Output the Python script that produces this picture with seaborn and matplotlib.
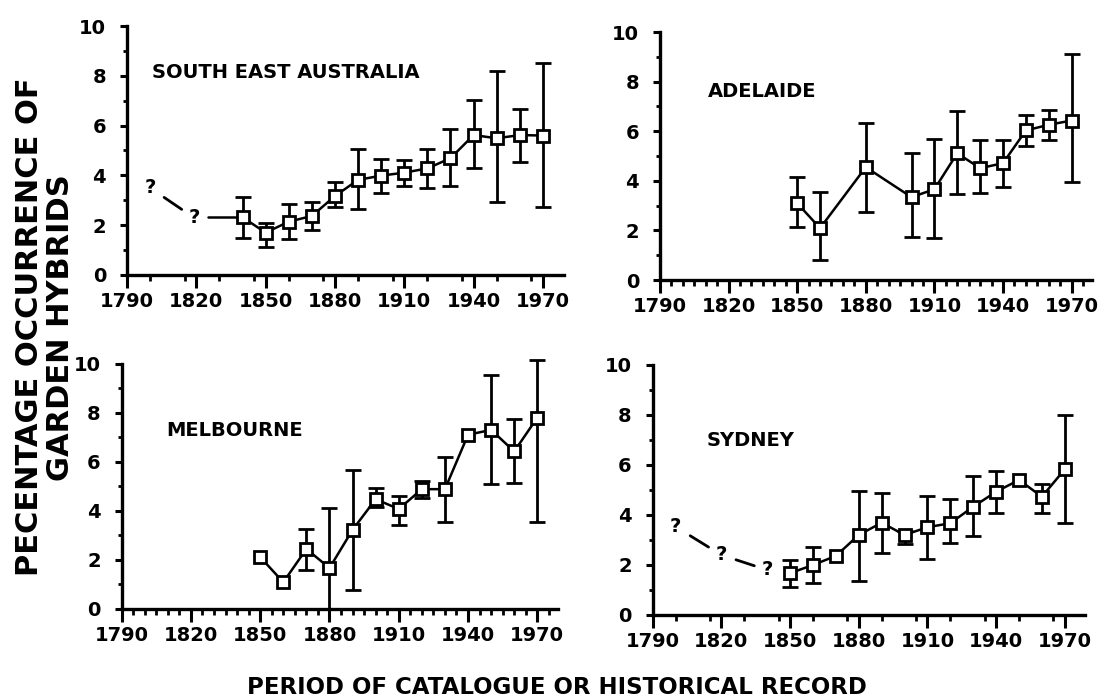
import numpy as np
import pandas as pd
import matplotlib
matplotlib.use("Agg")
import matplotlib.pyplot as plt
from matplotlib.ticker import MultipleLocator
import seaborn as sns

# data (value, lower and upper end of the error bar)
se_years = [1840, 1850, 1860, 1870, 1880, 1890, 1900, 1910, 1920, 1930, 1940, 1950, 1960, 1970]
se_val = [2.32, 1.70, 2.14, 2.37, 3.17, 3.82, 3.99, 4.11, 4.28, 4.69, 5.62, 5.49, 5.62, 5.60]
se_lo = [1.47, 1.14, 1.43, 1.81, 2.74, 2.64, 3.31, 3.59, 3.48, 3.59, 4.28, 2.95, 4.55, 2.74]
se_hi = [3.15, 2.10, 2.84, 2.95, 3.73, 5.06, 4.65, 4.62, 5.05, 5.86, 7.03, 8.21, 6.67, 8.53]
se_guess_years = [1800, 1819]
se_guess_vals = [3.5, 2.3]
se_lead_in = 1825

ad_years = [1850, 1860, 1880, 1900, 1910, 1920, 1930, 1940, 1950, 1960, 1970]
ad_val = [3.10, 2.09, 4.55, 3.34, 3.66, 5.11, 4.51, 4.71, 6.03, 6.26, 6.43]
ad_lo = [2.15, 0.81, 2.76, 1.72, 1.68, 3.47, 3.50, 3.77, 5.41, 5.65, 3.97]
ad_hi = [4.17, 3.53, 6.33, 5.11, 5.68, 6.80, 5.65, 5.65, 6.66, 6.86, 9.12]

me_years = [1850, 1860, 1870, 1880, 1890, 1900, 1910, 1920, 1930, 1940, 1950, 1960, 1970]
me_val = [2.12, 1.09, 2.45, 1.67, 3.23, 4.48, 4.08, 4.89, 4.89, 7.11, 7.31, 6.43, 7.81]
me_lo = [np.nan, np.nan, 1.60, 0.0, 0.76, 4.18, 3.44, 4.52, 3.53, np.nan, 5.11, 5.16, 3.57]
me_hi = [np.nan, np.nan, 3.26, 4.12, 5.68, 4.93, 4.62, 5.24, 6.20, np.nan, 9.55, 7.74, 10.16]

sy_years = [1850, 1860, 1870, 1880, 1890, 1900, 1910, 1920, 1930, 1940, 1950, 1960, 1970]
sy_val = [1.67, 2.00, 2.36, 3.20, 3.69, 3.20, 3.51, 3.67, 4.33, 4.93, 5.40, 4.73, 5.83]
sy_lo = [1.13, 1.29, np.nan, 1.37, 2.47, 2.84, 2.23, 2.87, 3.16, 4.09, np.nan, 4.09, 3.69]
sy_hi = [2.20, 2.73, np.nan, 4.97, 4.87, 3.37, 4.77, 4.64, 5.56, 5.77, np.nan, 5.24, 8.00]
sy_guess_years = [1800, 1820, 1840]
sy_guess_vals = [3.53, 2.4, 1.8]

year_ticks = [1790, 1820, 1850, 1880, 1910, 1940, 1970]

sns.set_theme(style="ticks")
plt.rcParams['font.family'] = ['DejaVu Sans']
plt.rcParams['font.weight'] = 'bold'
plt.rcParams['text.color'] = 'black'
plt.rcParams['xtick.color'] = 'black'
plt.rcParams['ytick.color'] = 'black'
plt.rcParams['axes.labelcolor'] = 'black'

fig = plt.figure(figsize=(11.06, 6.99), dpi=100)


def draw_panel(rect, name, name_xy, years, val, lo, hi, minor_step, guess=None, lead_in=None):
    ax = fig.add_axes(rect)
    df = pd.DataFrame({'year': years, 'val': val, 'lo': lo, 'hi': hi})

    # error bars only where the original shows one
    eb = df.dropna()
    ax.errorbar(eb['year'], eb['val'], yerr=[eb['val'] - eb['lo'], eb['hi'] - eb['val']],
                fmt='none', ecolor='black', elinewidth=2.0, capsize=6, capthick=2.0,
                zorder=2, clip_on=False)

    sns.lineplot(data=df, x='year', y='val', ax=ax, color='black', lw=1.8,
                 marker='s', markersize=8, markerfacecolor='white',
                 markeredgecolor='black', markeredgewidth=2.0, zorder=3, clip_on=False)

    # speculative early trend drawn as "?" marks with dashes in between
    if guess is not None:
        gx, gy = guess
        for x, y in zip(gx, gy):
            ax.text(x, y, '?', ha='center', va='center', fontsize=14, fontweight='bold')
        for i in range(len(gx) - 1):
            x0, x1 = gx[i], gx[i + 1]
            y0, y1 = gy[i], gy[i + 1]
            ax.plot([x0 + 0.32 * (x1 - x0), x0 + 0.72 * (x1 - x0)],
                    [y0 + 0.32 * (y1 - y0), y0 + 0.72 * (y1 - y0)],
                    color='black', lw=2.0)
    if lead_in is not None:
        ax.plot([lead_in, years[0]], [val[0], val[0]], color='black', lw=1.8)

    ax.text(name_xy[0], name_xy[1], name, ha='left', va='center',
            fontsize=14, fontweight='bold')

    ax.set_xlim(1790, 1979)
    ax.set_ylim(0, 10)
    ax.set_xticks(year_ticks)
    ax.xaxis.set_minor_locator(MultipleLocator(minor_step))
    ax.set_yticks([0, 2, 4, 6, 8, 10])
    ax.yaxis.set_minor_locator(MultipleLocator(1))
    ax.set_xlabel('')
    ax.set_ylabel('')
    ax.tick_params(axis='x', which='major', direction='out', length=9, width=2.2,
                   labelsize=14, pad=3)
    ax.tick_params(axis='x', which='minor', direction='out', length=4, width=2.0)
    ax.tick_params(axis='y', which='major', direction='out', length=5, width=2.2,
                   labelsize=14, pad=10)
    ax.tick_params(axis='y', which='minor', direction='out', length=3, width=2.0)
    for lab in ax.get_xticklabels() + ax.get_yticklabels():
        lab.set_fontweight('bold')
    sns.despine(ax=ax)
    for side in ['left', 'bottom']:
        ax.spines[side].set_linewidth(2.4)
        ax.spines[side].set_color('black')
    ax.set_facecolor('white')
    return ax


draw_panel([0.1148, 0.6066, 0.3949, 0.3562], 'SOUTH EAST AUSTRALIA', (1801, 8.15),
           se_years, se_val, se_lo, se_hi, 15,
           guess=(se_guess_years, se_guess_vals), lead_in=se_lead_in)
draw_panel([0.5967, 0.5994, 0.3908, 0.3548], 'ADELAIDE', (1811, 7.6),
           ad_years, ad_val, ad_lo, ad_hi, 5)
draw_panel([0.1100, 0.1288, 0.3946, 0.3505], 'MELBOURNE', (1809.5, 7.3),
           me_years, me_val, me_lo, me_hi, 5)
draw_panel([0.5901, 0.1202, 0.3913, 0.3577], 'SYDNEY', (1813.5, 6.96),
           sy_years, sy_val, sy_lo, sy_hi, 15,
           guess=(sy_guess_years, sy_guess_vals))

fig.text(0.041, 0.532, 'PECENTAGE OCCURRENCE OF\nGARDEN HYBRIDS', rotation=90,
         ha='center', va='center', multialignment='center', fontsize=22,
         fontweight='bold', linespacing=1.1)
fig.text(0.504, 0.016, 'PERIOD OF CATALOGUE OR HISTORICAL RECORD', ha='center',
         va='center', fontsize=16.5, fontweight='bold')

fig.savefig('out.png', dpi=100, facecolor='white')
